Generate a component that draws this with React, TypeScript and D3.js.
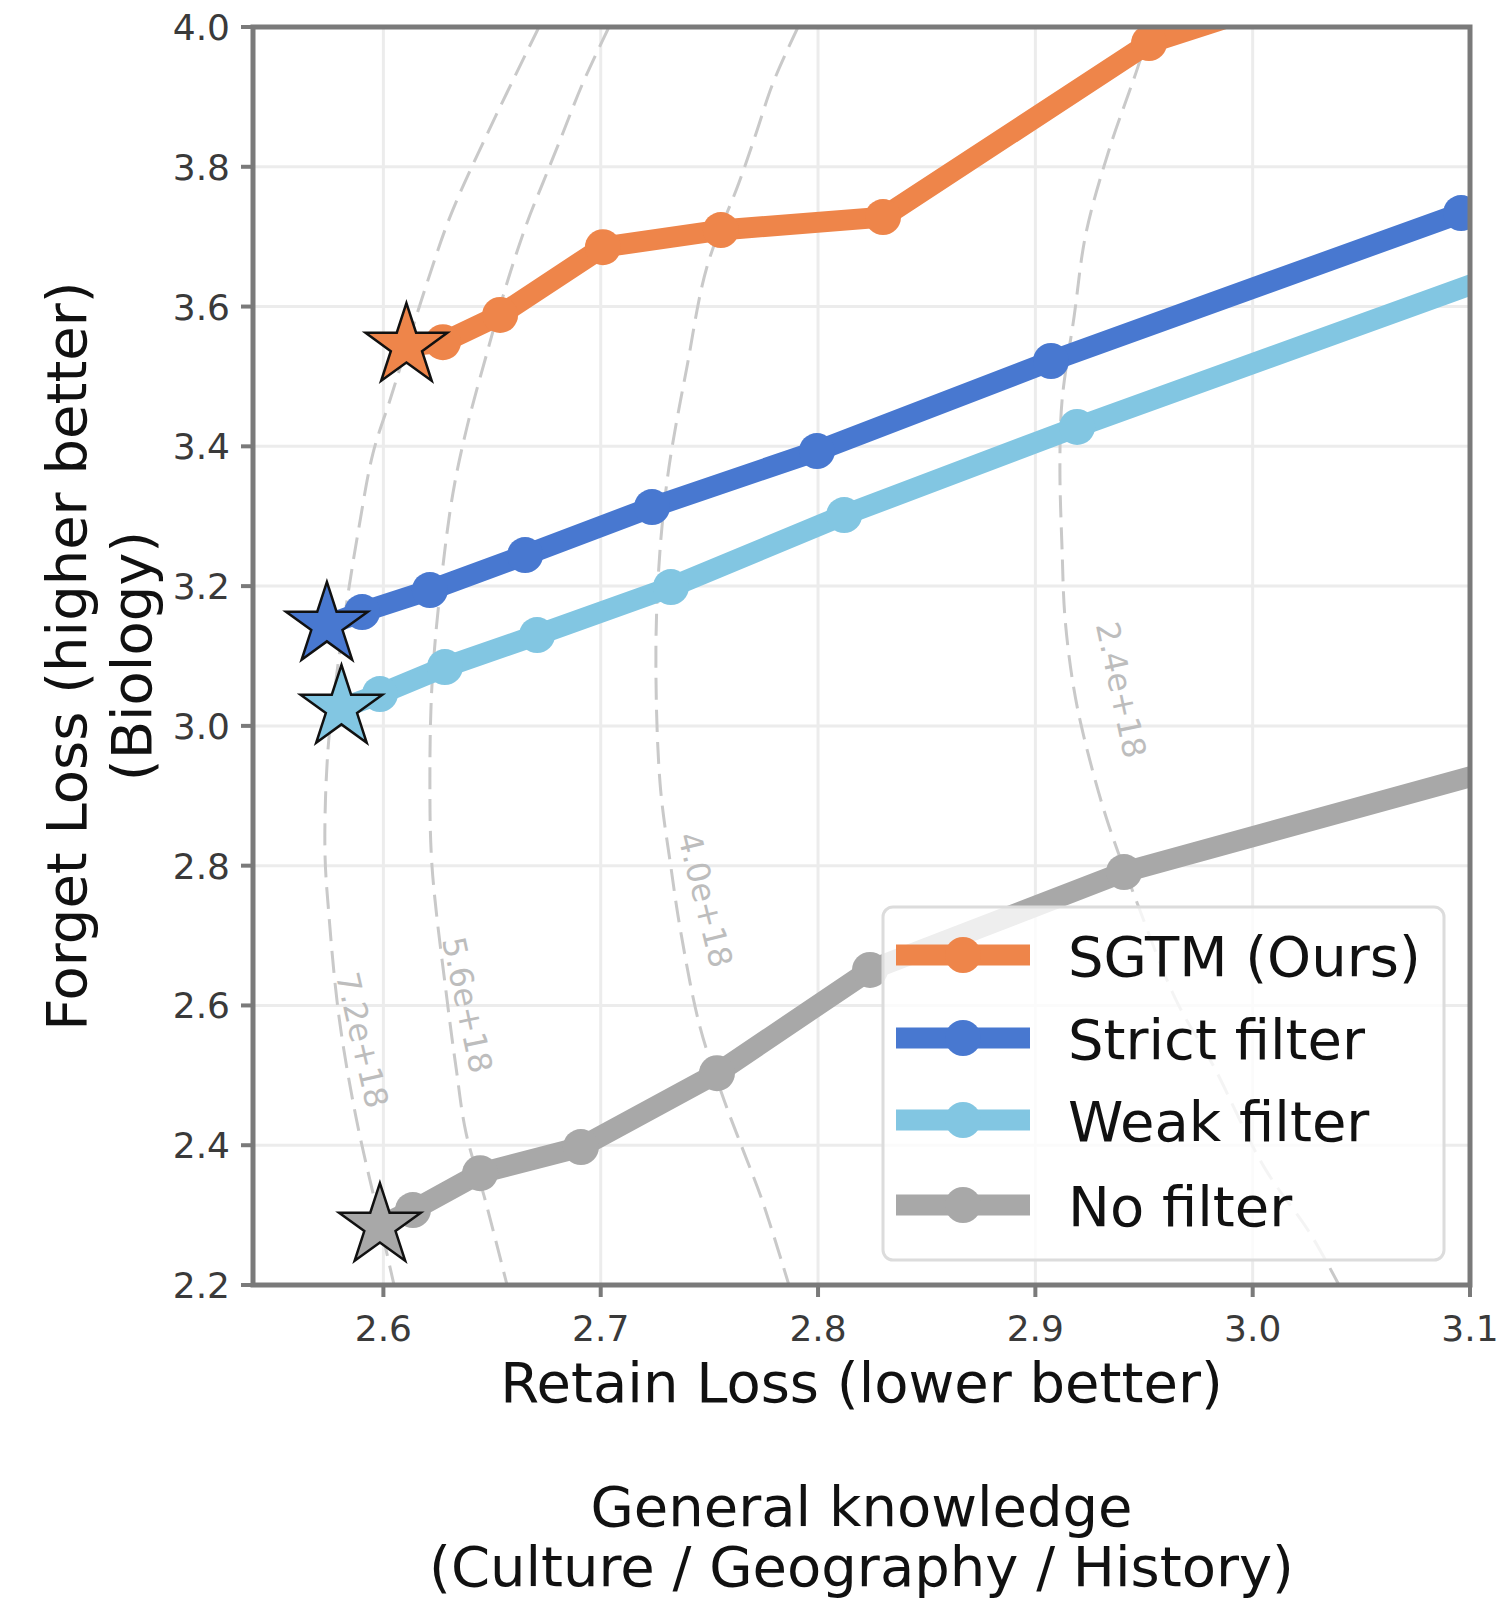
import React from 'react';
import * as d3 from 'd3';

// ---------- data ----------
const xTicks = [2.6, 2.7, 2.8, 2.9, 3.0, 3.1];
const yTicks = [2.2, 2.4, 2.6, 2.8, 3.0, 3.2, 3.4, 3.6, 3.8, 4.0];

const seriesNames = ['SGTM (Ours)', 'Strict filter', 'Weak filter', 'No filter'];
const seriesColors = ['#EE854A', '#4878D0', '#82C6E2', '#A8A8A8'];

const sgtmX = [2.6106, 2.6274, 2.6537, 2.7010, 2.7553, 2.8299, 2.9523, 3.0];
const sgtmY = [3.5435, 3.549, 3.588, 3.685, 3.7095, 3.728, 3.977, 4.025];

const strictX = [2.5740, 2.5902, 2.6214, 2.6652, 2.7236, 2.7995, 2.9072, 3.0959];
const strictY = [3.1444, 3.1629, 3.1944, 3.2444, 3.3131, 3.3933, 3.5221, 3.7338];

const weakX = [2.5807, 2.5984, 2.6283, 2.6707, 2.7323, 2.8120, 2.9192, 3.12];
const weakY = [3.0256, 3.0456, 3.0842, 3.1300, 3.1987, 3.3017, 3.4277, 3.653];

const noneX = [2.5984, 2.6136, 2.6445, 2.6909, 2.7535, 2.8239, 2.9408, 3.12];
const noneY = [2.2844, 2.3072, 2.360, 2.3974, 2.503, 2.6508, 2.7909, 2.944];

const starX = [2.6106, 2.5740, 2.5807, 2.5984];
const starY = [3.5435, 3.1444, 3.0256, 2.2844];

const contourLabels = ['7.2e+18', '5.6e+18', '4.0e+18', '2.4e+18'];
const contourLabelX = [2.5902, 2.6385, 2.748, 2.9394];
const contourLabelY = [2.5506, 2.6007, 2.751, 3.0514];
const contourLabelAngle = [77, 78, 76, 78];

const c1X = [2.6716, 2.6458, 2.6306, 2.6201, 2.6113, 2.6030, 2.5952, 2.5888, 2.5833, 2.5782, 2.5745, 2.5731, 2.5750, 2.5796, 2.5874, 2.5984, 2.6049];
const c1Y = [4.000, 3.834, 3.728, 3.634, 3.548, 3.466, 3.390, 3.285, 3.180, 3.066, 2.966, 2.822, 2.727, 2.583, 2.440, 2.289, 2.200];

const c2X = [2.7038, 2.6918, 2.6813, 2.6734, 2.6661, 2.6569, 2.6477, 2.6385, 2.6320, 2.6265, 2.6224, 2.6214, 2.6224, 2.6293, 2.6334, 2.6380, 2.6468, 2.6569];
const c2Y = [4.000, 3.920, 3.838, 3.777, 3.720, 3.634, 3.534, 3.428, 3.333, 3.204, 3.061, 2.923, 2.798, 2.608, 2.512, 2.418, 2.322, 2.200];

const c3X = [2.7908, 2.7793, 2.7715, 2.7636, 2.7489, 2.7397, 2.7314, 2.7273, 2.7254, 2.7273, 2.7323, 2.7369, 2.7457, 2.7567, 2.7655, 2.7742, 2.7866];
const c3Y = [4.000, 3.920, 3.848, 3.777, 3.657, 3.514, 3.370, 3.252, 3.109, 2.918, 2.798, 2.704, 2.569, 2.465, 2.393, 2.322, 2.200];

const c4X = [2.9528, 2.9472, 2.9339, 2.9233, 2.9178, 2.9123, 2.9113, 2.9123, 2.9136, 2.9173, 2.9219, 2.9325, 2.9468, 2.9647, 2.9822, 3.0052, 3.0264, 3.0397];
const c4Y = [4.000, 3.943, 3.824, 3.705, 3.585, 3.466, 3.370, 3.252, 3.156, 3.061, 2.990, 2.870, 2.747, 2.608, 2.512, 2.369, 2.274, 2.200];

const xLabel = 'Retain Loss (lower better)';
const yLabel1 = 'Forget Loss (higher better)';
const yLabel2 = '(Biology)';
const bottomTitle1 = 'General knowledge';
const bottomTitle2 = '(Culture / Geography / History)';

// ---------- layout ----------
const W = 1506;
const H = 1602;
const PL = 253, PR = 1470, PT = 27, PB = 1285;
const FONT = '"DejaVu Sans", "Liberation Sans", sans-serif';

function starPath(R: number) {
  const r = R * 0.381966;
  const pts: [number, number][] = [];
  for (let i = 0; i < 10; i++) {
    const a = -Math.PI / 2 + (i * Math.PI) / 5;
    const rr = i % 2 === 0 ? R : r;
    pts.push([rr * Math.cos(a), rr * Math.sin(a)]);
  }
  return 'M' + pts.map((p) => p[0].toFixed(2) + ',' + p[1].toFixed(2)).join('L') + 'Z';
}

export default function App() {
  const x = d3.scaleLinear().domain([2.54, 3.1]).range([PL, PR]);
  const y = d3.scaleLinear().domain([2.2, 4.0]).range([PB, PT]);

  const series = [
    { xs: sgtmX, ys: sgtmY },
    { xs: strictX, ys: strictY },
    { xs: weakX, ys: weakY },
    { xs: noneX, ys: noneY },
  ];
  const contours = [
    { xs: c1X, ys: c1Y },
    { xs: c2X, ys: c2Y },
    { xs: c3X, ys: c3Y },
    { xs: c4X, ys: c4Y },
  ];

  const line = d3
    .line<[number, number]>()
    .x((d) => x(d[0]))
    .y((d) => y(d[1]));
  const smooth = d3
    .line<[number, number]>()
    .x((d) => x(d[0]))
    .y((d) => y(d[1]))
    .curve(d3.curveCatmullRom.alpha(0.5));

  const LW = 21;
  const MR = 18;
  const star = starPath(43);
  const drawOrder = [3, 2, 1, 0];

  const legendX = 883, legendY = 907, legendW = 561, legendH = 353;
  const rowY = [955, 1038, 1120, 1205];

  return (
    <svg
      width={W}
      height={H}
      viewBox={`0 0 ${W} ${H}`}
      style={{ position: 'absolute', left: 0, top: 0, background: '#fff' }}
      fontFamily={FONT}
    >
      <defs>
        <clipPath id="plotclip">
          <rect x={PL} y={PT} width={PR - PL} height={PB - PT} />
        </clipPath>
      </defs>
      <rect x={0} y={0} width={W} height={H} fill="#fff" />

      {/* grid */}
      <g stroke="#ececec" strokeWidth={3}>
        {xTicks.map((t) => (
          <line key={'gx' + t} x1={x(t)} x2={x(t)} y1={PT} y2={PB} />
        ))}
        {yTicks.map((t) => (
          <line key={'gy' + t} x1={PL} x2={PR} y1={y(t)} y2={y(t)} />
        ))}
      </g>

      {/* contours */}
      <g clipPath="url(#plotclip)">
        {contours.map((c, i) => (
          <path
            key={'c' + i}
            d={smooth(c.xs.map((v, j) => [v, c.ys[j]] as [number, number])) || ''}
            fill="none"
            stroke="#c9c9c9"
            strokeWidth={3}
            strokeDasharray="22 10"
          />
        ))}
        {contourLabels.map((t, i) => (
          <text
            key={'cl' + i}
            transform={`translate(${x(contourLabelX[i])},${y(contourLabelY[i])}) rotate(${contourLabelAngle[i]})`}
            textAnchor="middle"
            dominantBaseline="central"
            fontSize={32}
            fill="#bdbdbd"
          >
            {t}
          </text>
        ))}
      </g>

      {/* series lines */}
      <g clipPath="url(#plotclip)">
        {drawOrder.map((i) => {
          const s = series[i];
          const pts = s.xs.map((v, j) => [v, s.ys[j]] as [number, number]);
          return (
            <g key={'s' + i}>
              <path
                d={line(pts) || ''}
                fill="none"
                stroke={seriesColors[i]}
                strokeWidth={LW}
                strokeLinejoin="round"
                strokeLinecap="butt"
              />
              {pts.slice(1).map((p, j) => (
                <circle key={j} cx={x(p[0])} cy={y(p[1])} r={MR} fill={seriesColors[i]} />
              ))}
            </g>
          );
        })}
        {starX.map((sx, i) => (
          <path
            key={'st' + i}
            d={star}
            transform={`translate(${x(sx)},${y(starY[i])})`}
            fill={seriesColors[i]}
            stroke="#111"
            strokeWidth={2.5}
            strokeLinejoin="miter"
          />
        ))}
      </g>

      {/* spines */}
      <rect x={PL} y={PT} width={PR - PL} height={PB - PT} fill="none" stroke="#7a7a7a" strokeWidth={5} />

      {/* ticks */}
      <g stroke="#7a7a7a" strokeWidth={4}>
        {xTicks.map((t) => (
          <line key={'tx' + t} x1={x(t)} x2={x(t)} y1={PB} y2={PB + 12} />
        ))}
        {yTicks.map((t) => (
          <line key={'ty' + t} x1={PL - 12} x2={PL} y1={y(t)} y2={y(t)} />
        ))}
      </g>
      <g fontSize={36} fill="#3a3a3a">
        {xTicks.map((t) => (
          <text key={'lx' + t} x={x(t)} y={PB + 56} textAnchor="middle">
            {d3.format('.1f')(t)}
          </text>
        ))}
        {yTicks.map((t) => (
          <text key={'ly' + t} x={PL - 23} y={y(t) + 13} textAnchor="end">
            {d3.format('.1f')(t)}
          </text>
        ))}
      </g>

      {/* axis labels */}
      <g fontSize={56} fill="#111">
        <text x={(PL + PR) / 2} y={1402} textAnchor="middle">
          {xLabel}
        </text>
        <text transform={`translate(86,${(PT + PB) / 2}) rotate(-90)`} textAnchor="middle">
          {yLabel1}
        </text>
        <text transform={`translate(151,${(PT + PB) / 2}) rotate(-90)`} textAnchor="middle">
          {yLabel2}
        </text>
        <text x={(PL + PR) / 2} y={1526} textAnchor="middle">
          {bottomTitle1}
        </text>
        <text x={(PL + PR) / 2} y={1586} textAnchor="middle">
          {bottomTitle2}
        </text>
      </g>

      {/* legend */}
      <g>
        <rect
          x={legendX}
          y={legendY}
          width={legendW}
          height={legendH}
          rx={10}
          fill="#fff"
          fillOpacity={0.8}
          stroke="#dcdcdc"
          strokeWidth={3}
        />
        {seriesNames.map((n, i) => (
          <g key={'lg' + i}>
            <line x1={896} x2={1030} y1={rowY[i]} y2={rowY[i]} stroke={seriesColors[i]} strokeWidth={LW} />
            <circle cx={963} cy={rowY[i]} r={MR} fill={seriesColors[i]} />
            <text x={1068} y={rowY[i] + 21} fontSize={56} fill="#111">
              {n}
            </text>
          </g>
        ))}
      </g>
    </svg>
  );
}
